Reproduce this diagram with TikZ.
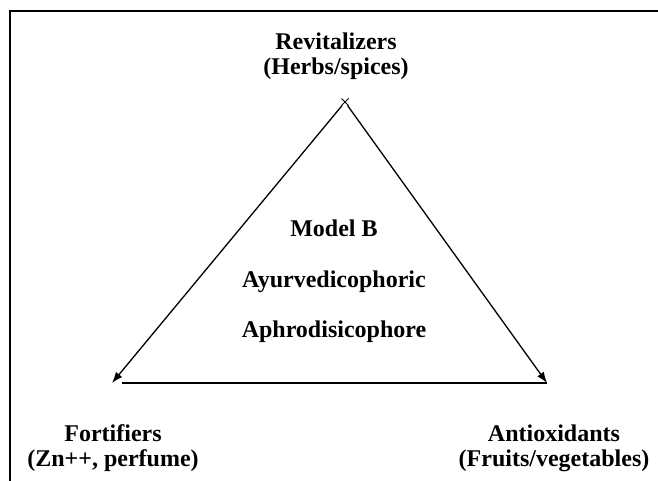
\documentclass[tikz,border=0pt]{standalone}
\usepackage{fontspec}
\setmainfont{Liberation Serif}
\usepackage{tikz}
\usetikzlibrary{positioning,arrows.meta,shapes.misc}

\begin{document}
\begin{tikzpicture}[x=1pt,y=-1pt,
    lbl/.style={font=\fontsize{24}{25}\selectfont\bfseries, align=center, inner sep=0pt},
    edge/.style={line width=1.3pt, -{Latex[length=11pt,width=8pt]}}]
\useasboundingbox (0,0) rectangle (658,481);

% Frame (top and left only)
\draw[line width=2pt] (10,481) -- (10,11) -- (658,11);

% Corners of the triangle
\node[cross out, draw, line width=1pt, minimum size=6pt, inner sep=0pt] (apex) at (345,102) {};
\coordinate (fortTip) at (112,383);
\coordinate (antiTip) at (547,383);
\coordinate (baseL) at (122,383);

% Sides
\draw[edge] (apex) -- (fortTip);
\draw[edge] (apex) -- (antiTip);
\draw[line width=1.8pt] (baseL) -- (antiTip);

% Corner labels
\node[lbl] (revit) at (336,56) {Revitalizers\\(Herbs/spices)};
\node[lbl] (fort) at (113,448) {Fortifiers\\(Zn++, perfume)};
\node[lbl] (anti) at (554,448) {Antioxidants\\(Fruits/vegetables)};

% Centre text
\foreach \y/\txt/\nm in {228/Model B/model, 282/Ayurvedicophoric/ayur, 332/Aphrodisicophore/aphro} {
    \node[lbl] (\nm) at (334,\y) {\txt};
}
\end{tikzpicture}
\end{document}
